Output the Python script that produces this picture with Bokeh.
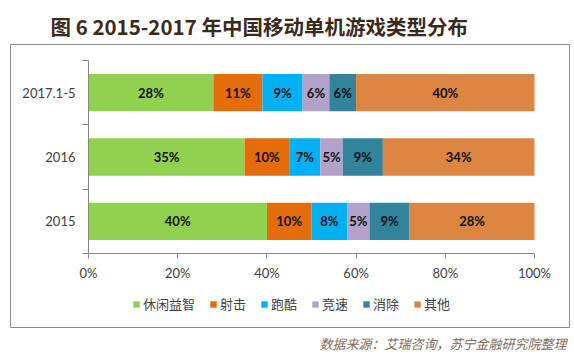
from bokeh.plotting import figure
from bokeh.models import (ColumnDataSource, FixedTicker, Legend, LegendItem,
                          Range1d, Title)
from bokeh.core.properties import value
from bokeh.embed import file_html
from bokeh.resources import INLINE

# ---- data ----
years = ["2015", "2016", "2017.1-5"]
types = ["休闲益智", "射击", "跑酷", "竞速", "消除", "其他"]
casual = [40, 35, 28]
shooting = [10, 10, 11]
parkour = [8, 7, 9]
racing = [5, 5, 6]
match3 = [9, 9, 6]
others = [28, 34, 40]
x_ticks = [0, 20, 40, 60, 80, 100]
x_tick_labels = ["0%", "20%", "40%", "60%", "80%", "100%"]
title_text = "图 6  2015-2017 年中国移动单机游戏类型分布"
source_text = "数据来源：艾瑞咨询，苏宁金融研究院整理"

colors = ["#92D050", "#E46C0A", "#00B0F0", "#B3A2C7", "#31849B", "#DC8641"]
series = [casual, shooting, parkour, racing, match3, others]

CJK = "Noto Sans CJK SC"
NUM = "Lato"

# layout (canvas px): outer box = frame, plot area inside it
W, H = 572, 356
box_l, box_r, box_t, box_b = 10, 569, 44, 327
pa_l, pa_r, pa_t, pa_b = 88, 534, 60, 253
xs = (pa_r - pa_l) / 100.0
ys = (pa_b - pa_t) / 3.0
x_range = Range1d(-(pa_l - box_l) / xs, 100 + (box_r - pa_r) / xs)
y_range = Range1d(-(box_b - pa_b) / ys, 3 + (pa_t - box_t) / ys)

p = figure(width=W, height=H, output_backend="svg", toolbar_location=None,
           x_range=x_range, y_range=y_range,
           min_border_left=box_l, min_border_right=W - box_r,
           min_border_top=box_t, min_border_bottom=H - box_b)
p.outline_line_color = "#8C8C8C"
p.outline_line_width = 1
p.xgrid.grid_line_color = None
p.ygrid.grid_line_color = None
p.background_fill_color = "white"
p.border_fill_color = "white"

ypos = [i + 0.5 for i in range(len(years))]
renderers = []
left = [0.0] * len(years)
for name, vals, col in zip(types, series, colors):
    right = [l + v for l, v in zip(left, vals)]
    src = ColumnDataSource(dict(y=ypos, left=left, right=right,
                                mid=[(l + r) / 2 for l, r in zip(left, right)],
                                txt=[f"{v}%" for v in vals]))
    r = p.hbar(y="y", left="left", right="right", height=0.58, source=src,
               fill_color=col, line_color=None)
    renderers.append((name, r))
    p.text(x="mid", y="y", text="txt", source=src, text_align="center",
           text_baseline="middle", text_font=value(NUM), text_font_style="bold",
           text_font_size="13px", text_color="#111111")
    left = right

# axes
ax = p.xaxis[0]
ax.fixed_location = 0
ax.bounds = (0, 100)
ax.ticker = FixedTicker(ticks=x_ticks)
ax.major_label_overrides = {t: l for t, l in zip(x_ticks, x_tick_labels)}
ax.axis_line_color = "#868686"
ax.major_tick_line_color = "#868686"
ax.major_tick_in = 0
ax.major_tick_out = 5
ax.minor_tick_line_color = None
ax.major_label_text_font = NUM
ax.major_label_text_font_size = "13px"
ax.major_label_text_color = "#404040"
ax.major_label_standoff = 6

ay = p.yaxis[0]
ay.fixed_location = 0
ay.bounds = (0, 3)
ay.ticker = FixedTicker(ticks=ypos, minor_ticks=[0, 1, 2, 3])
ay.major_label_overrides = {t: l for t, l in zip(ypos, years)}
ay.axis_line_color = "#868686"
ay.major_tick_line_color = None
ay.major_tick_in = 0
ay.major_tick_out = 6
ay.minor_tick_line_color = "#868686"
ay.minor_tick_in = 0
ay.minor_tick_out = 6
ay.major_label_text_font = NUM
ay.major_label_text_font_size = "13px"
ay.major_label_text_color = "#404040"
ay.major_label_standoff = 7

# legend inside the outer box, below the axis
legend = Legend(items=[LegendItem(label=n, renderers=[r]) for n, r in renderers],
                orientation="horizontal", location=(122, 14),
                glyph_width=8, glyph_height=8, label_standoff=3, spacing=14,
                padding=0, margin=0, label_height=14,
                label_text_font=CJK, label_text_font_size="13px",
                label_text_color="#404040", border_line_color=None,
                background_fill_alpha=0)
p.add_layout(legend)

# title & source
p.title.text = title_text
p.title.align = "left"
p.title.offset = 40
p.title.text_font = CJK
p.title.text_font_style = "bold"
p.title.text_font_size = "20.5px"
p.title.text_color = "#3B2A1C"
p.title.vertical_align = "top"
p.title.standoff = 4

p.add_layout(Title(text=source_text, align="right", offset=3,
                   text_font=CJK, text_font_style="italic", text_font_size="13px",
                   text_color="#7D6B5A", standoff=8), "below")

open("out.html", "w").write(file_html(p, INLINE))
